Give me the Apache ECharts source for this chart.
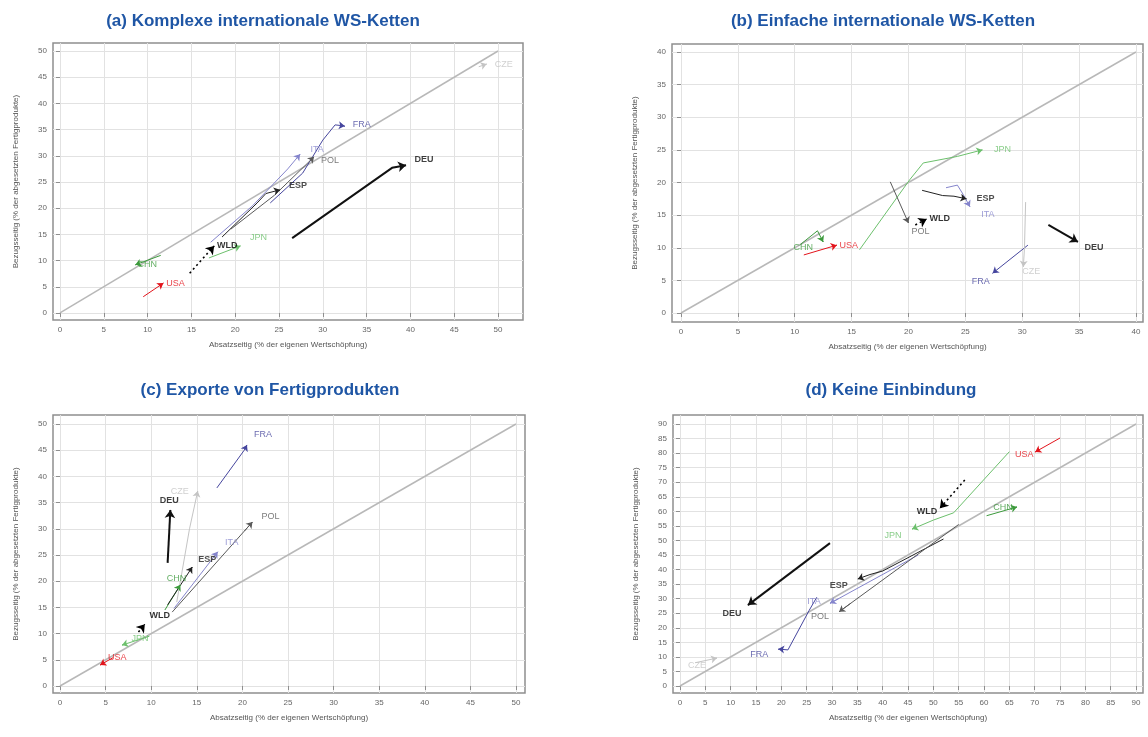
<!DOCTYPE html>
<html>
<head>
<meta charset="utf-8">
<script src="https://cdn.jsdelivr.net/npm/echarts@6/dist/echarts.min.js"></script>
<style>
  html, body { margin: 0; padding: 0; background: #ffffff; }
  #chart { width: 1148px; height: 737px; }
</style>
</head>
<body>
<div id="chart"></div>
<script>
// ---------------- data ----------------
const panelTitles = [
  '(a) Komplexe internationale WS-Ketten',
  '(b) Einfache internationale WS-Ketten',
  '(c) Exporte von Fertigprodukten',
  '(d) Keine Einbindung'
];
const xAxisTitle = 'Absatzseitig (% der eigenen Wertschöpfung)';
const yAxisTitle = 'Bezugsseitig (% der abgesetzten Fertigprodukte)';

const countries = ['CHN', 'JPN', 'USA', 'DEU', 'FRA', 'ITA', 'ESP', 'POL', 'CZE', 'WLD'];

// Trajectories [x, y] in the order of `countries`; the arrow sits on the last point.
const komplexPaths = [
  [[11.5, 11.0], [8.6, 9.2]],
  [[17.0, 10.5], [20.6, 12.8]],
  [[9.5, 3.1], [11.8, 5.7]],
  [[26.5, 14.3], [37.9, 27.7], [39.5, 28.2]],
  [[24.0, 21.0], [27.7, 26.7], [30.0, 33.0], [31.4, 35.9], [32.5, 35.7]],
  [[17.2, 13.5], [22.0, 20.5], [26.0, 27.5], [27.4, 30.3]],
  [[18.5, 14.5], [22.5, 21.0], [23.5, 22.8], [25.1, 23.5]],
  [[19.5, 16.0], [24.5, 22.5], [29.0, 29.8]],
  [[47.8, 47.0], [48.7, 47.5]],
  [[14.8, 7.6], [17.6, 12.8]]
];
const einfachPaths = [
  [[10.5, 10.5], [12.0, 12.6], [12.5, 10.9]],
  [[15.7, 9.7], [20.1, 20.4], [21.3, 23.0], [24.3, 24.0], [26.5, 25.0]],
  [[10.8, 8.9], [13.7, 10.4]],
  [[32.3, 13.5], [34.9, 10.9]],
  [[30.5, 10.4], [27.4, 6.1]],
  [[23.3, 19.2], [24.3, 19.6], [24.8, 18.2], [25.4, 16.3]],
  [[21.2, 18.8], [23.0, 18.0], [24.0, 17.9], [25.1, 17.5]],
  [[18.4, 20.1], [20.0, 13.8]],
  [[30.3, 17.0], [30.2, 10.0], [30.1, 7.1]],
  [[20.6, 13.5], [21.6, 14.4]]
];
const exportPaths = [
  [[11.5, 14.5], [13.2, 19.3]],
  [[9.8, 9.5], [6.8, 7.8]],
  [[5.8, 5.4], [4.4, 4.0]],
  [[11.8, 23.5], [12.1, 33.6]],
  [[17.2, 37.8], [20.2, 45.0], [20.5, 46.0]],
  [[12.5, 14.8], [17.3, 25.6]],
  [[11.8, 15.5], [14.5, 22.7]],
  [[12.3, 14.1], [21.1, 31.3]],
  [[12.8, 16.0], [14.2, 30.0], [15.1, 37.2]],
  [[8.6, 10.3], [9.3, 11.8]]
];
const keinePaths = [
  [[60.5, 58.5], [66.5, 61.5]],
  [[65.0, 80.5], [54.0, 59.5], [50.0, 57.0], [45.8, 53.9]],
  [[75.0, 85.2], [70.1, 80.4]],
  [[29.6, 49.1], [13.4, 27.8]],
  [[27.0, 30.5], [25.5, 26.0], [21.3, 12.4], [19.4, 12.7]],
  [[47.0, 45.0], [29.6, 28.4]],
  [[52.0, 50.5], [40.0, 39.5], [37.5, 38.3], [35.1, 36.8]],
  [[55.0, 55.5], [31.4, 25.5]],
  [[3.0, 8.0], [7.3, 9.6]],
  [[56.2, 70.8], [51.3, 61.1]]
];
const panelPaths = [komplexPaths, einfachPaths, exportPaths, keinePaths];

// end of the 45-degree reference line per panel
const diagonalEnds = [50, 40, 50, 90];

// ---------------- styles & layout ----------------
const countryStyle = {
  CHN: { color: '#3c9a3c', width: 1 },
  JPN: { color: '#6cc06c', width: 1 },
  USA: { color: '#e3141c', width: 1 },
  DEU: { color: '#111111', width: 2, bold: true },
  FRA: { color: '#46469e', width: 1 },
  ITA: { color: '#8585cc', width: 1 },
  ESP: { color: '#222222', width: 1, bold: true },
  POL: { color: '#5a5a5a', width: 1 },
  CZE: { color: '#c4c4c4', width: 1 },
  WLD: { color: '#000000', width: 1.6, type: [2, 3], bold: true }
};

// label offsets (px) from the arrow tip, in the order of `countries`
const labelOffsets = [
  [[12, 0], [18, -8], [12, 0], [18, -6], [17, -1], [17, -5], [18, -4], [16, 4], [17, 0], [13, 0]],
  [[-20, 6], [20, 0], [12, 0], [16, 6], [-12, 8], [18, 8], [19, 0], [12, 9], [8, 5], [13, -1]],
  [[-4, -6], [18, -7], [17, -8], [-1, -9], [16, -10], [14, -9], [15, -8], [18, -5], [-18, 0], [15, -9]],
  [[-14, 1], [-19, 6], [-11, 3], [-16, 8], [-19, 5], [-16, -2], [-19, 7], [-19, 5], [-20, 7], [-13, 3]]
];

const panelLayout = [
  { left: 53,  top: 43,  width: 470, height: 277, xMin: -0.8,  xMax: 52.85, yMin: -1.34, yMax: 51.53, split: 10, titleX: 258, titleY: 8 },
  { left: 672, top: 44,  width: 471, height: 278, xMin: -0.79, xMax: 40.62, yMin: -1.38, yMax: 41.23, split: 8,  titleX: 878, titleY: 8 },
  { left: 53,  top: 415, width: 472, height: 278, xMin: -0.77, xMax: 50.99, yMin: -1.34, yMax: 51.72, split: 10, titleX: 265, titleY: 377 },
  { left: 673, top: 415, width: 470, height: 278, xMin: -1.38, xMax: 91.37, yMin: -2.4,  yMax: 93.1,  split: 18, titleX: 886, titleY: 377 }
];

const FONT = '"Liberation Sans", Arial, sans-serif';
const frameColor = '#8e8e8e';
const gridLineColor = '#e2e2e2';
const tickTextColor = '#666666';

// ---------------- option ----------------
const grids = panelLayout.map(p => ({
  left: p.left, top: p.top, width: p.width, height: p.height,
  show: true, borderColor: frameColor, borderWidth: 1.5, backgroundColor: '#ffffff'
}));

function axisCommon(p, isX, i) {
  return {
    type: 'value',
    gridIndex: i,
    min: isX ? p.xMin : p.yMin,
    max: isX ? p.xMax : p.yMax,
    splitNumber: p.split,
    name: isX ? xAxisTitle : yAxisTitle,
    nameLocation: 'middle',
    nameGap: isX ? 21 : 33,
    nameTextStyle: { fontSize: 8, color: '#555555', fontFamily: FONT },
    axisLine: { show: false },
    axisTick: { show: true, length: 4, lineStyle: { color: frameColor, width: 1 } },
    axisLabel: { fontSize: 8, color: tickTextColor, margin: 6, fontFamily: FONT,
                 showMinLabel: false, showMaxLabel: false },
    splitLine: { show: true, showMinLine: false, showMaxLine: false,
                 lineStyle: { color: gridLineColor, width: 1 } }
  };
}

const xAxes = panelLayout.map((p, i) => axisCommon(p, true, i));
const yAxes = panelLayout.map((p, i) => axisCommon(p, false, i));

const series = [];
panelPaths.forEach((paths, i) => {
  const d = diagonalEnds[i];
  series.push({
    type: 'line', xAxisIndex: i, yAxisIndex: i, silent: true, z: 2,
    data: [[0, 0], [d, d]], showSymbol: false,
    lineStyle: { color: '#b8b8b8', width: 1.5 }
  });

  paths.forEach((path, k) => {
    const st = countryStyle[countries[k]];
    series.push({
      type: 'line', xAxisIndex: i, yAxisIndex: i, silent: true, z: 3,
      data: path, showSymbol: false,
      lineStyle: { color: st.color, width: st.width, type: st.type || 'solid' }
    });
    // arrow head on the last segment
    const a = path[path.length - 2], b = path[path.length - 1];
    const t = 0.9;
    const from = [a[0] + (b[0] - a[0]) * t, a[1] + (b[1] - a[1]) * t];
    series.push({
      type: 'lines', coordinateSystem: 'cartesian2d', xAxisIndex: i, yAxisIndex: i,
      silent: true, z: 4,
      symbol: ['none', 'arrow'], symbolSize: st.width > 1.5 ? 8 : 6,
      lineStyle: { color: st.color, width: 1, opacity: 1 },
      data: [{ coords: [from, b] }]
    });
  });

  series.push({
    type: 'scatter', xAxisIndex: i, yAxisIndex: i, silent: true, z: 6,
    symbolSize: 1,
    itemStyle: { color: 'rgba(0,0,0,0)' },
    label: { show: true, position: 'inside', formatter: '{b}', fontSize: 9, fontFamily: FONT },
    data: paths.map((path, k) => {
      const st = countryStyle[countries[k]];
      return {
        name: countries[k],
        value: path[path.length - 1],
        label: { color: st.color, offset: labelOffsets[i][k], fontWeight: st.bold ? 'bold' : 'normal' }
      };
    })
  });
});

const option = {
  animation: false,
  backgroundColor: '#ffffff',
  textStyle: { fontFamily: FONT },
  title: panelTitles.map((t, i) => ({
    text: t, left: panelLayout[i].titleX, top: panelLayout[i].titleY, textAlign: 'center',
    textStyle: { fontSize: 17, fontWeight: 'bold', color: '#1f56a5', fontFamily: FONT }
  })),
  grid: grids,
  xAxis: xAxes,
  yAxis: yAxes,
  series: series
};

const chart = echarts.init(document.getElementById('chart'), null, { renderer: 'canvas' });
chart.setOption(option);
</script>
</body>
</html>
